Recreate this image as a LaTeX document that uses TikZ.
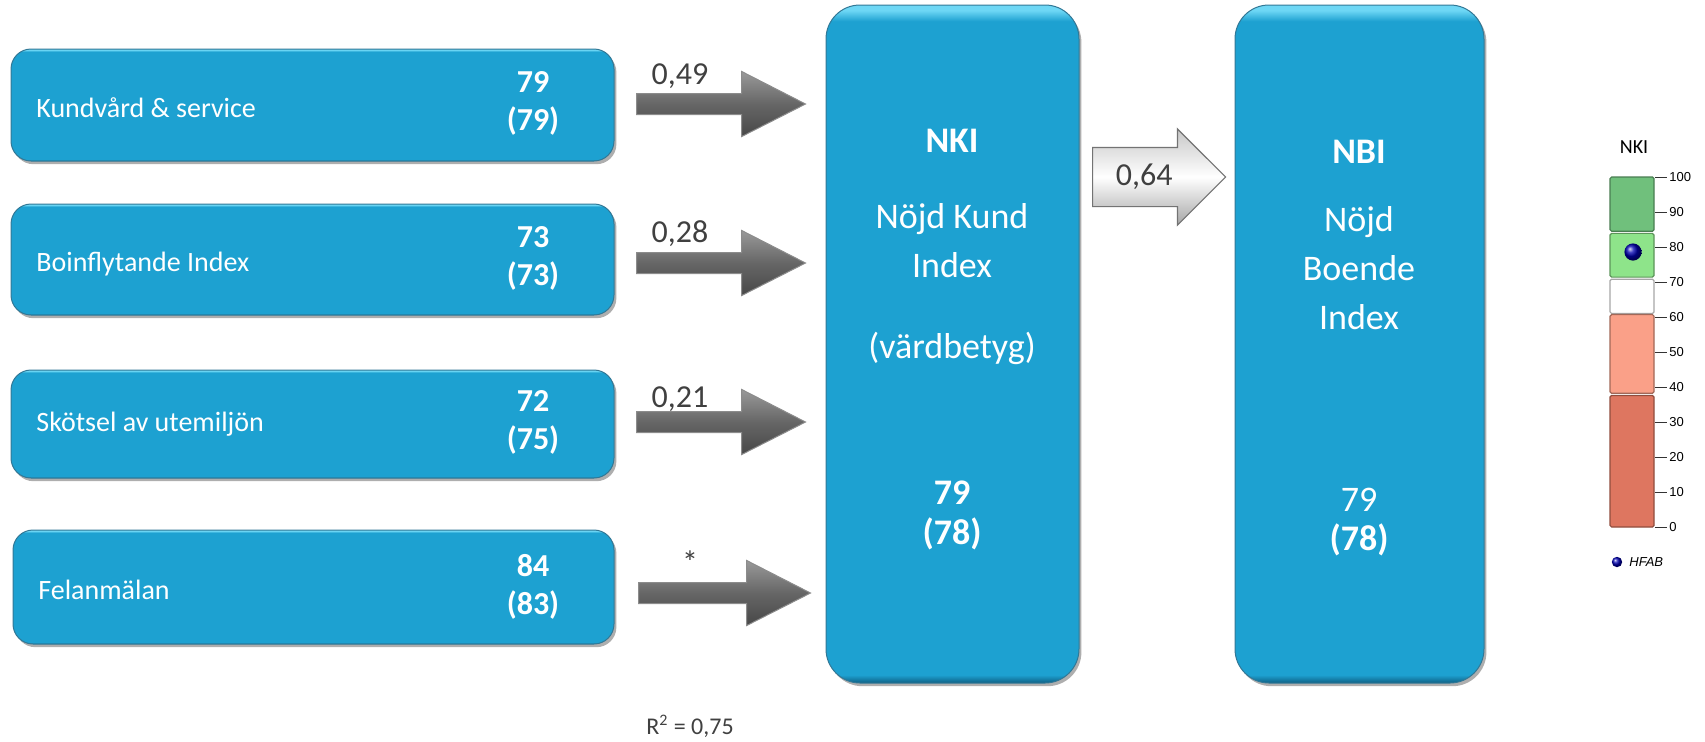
\documentclass[tikz,border=0pt]{standalone}
\usepackage{fontspec}
\setmainfont{Carlito}
\newfontfamily\tickfont{Liberation Sans}
\usetikzlibrary{shapes.arrows,shadows}

\definecolor{boxblue}{RGB}{29,161,209}
\definecolor{boxedge}{RGB}{14,96,132}
\definecolor{boxlight}{RGB}{110,215,245}
\definecolor{labelgray}{RGB}{64,64,64}
\definecolor{greendark}{RGB}{112,192,124}
\definecolor{greenlight}{RGB}{142,228,138}
\definecolor{salmonlight}{RGB}{250,160,136}
\definecolor{salmondark}{RGB}{222,118,96}

% bevel: dark rim at the bottom, light rim at the top
\pgfdeclareverticalshading{boxbevel}{100bp}{color(0bp)=(boxedge); color(25bp)=(boxedge);
  color(25.6bp)=(boxblue); color(73.8bp)=(boxblue); color(74.6bp)=(boxlight); color(100bp)=(boxlight)}

\begin{document}
\begin{tikzpicture}[x=0.5pt,y=-0.5pt,
    blockbox/.style={draw=boxedge!85, line width=0.5pt, shading=boxbevel,
      rounded corners=10pt, inner sep=0pt,
      drop shadow={shadow xshift=1.2pt, shadow yshift=-1.6pt, fill=black!70, opacity=0.45}},
    bigbox/.style={blockbox, rounded corners=17pt, minimum width=126.5pt, minimum height=339pt},
    boxlabel/.style={text=white, font=\fontsize{14}{17}\selectfont, anchor=west, inner sep=0pt},
    boxnum/.style={text=white, font=\fontsize{16}{19}\selectfont\bfseries, align=center, inner sep=0pt},
    bigtext/.style={text=white, font=\fontsize{18}{24.5}\selectfont, align=center, inner sep=0pt},
    grayarrow/.style={single arrow, anchor=tail, draw=black!45, line width=0.5pt,
      top color=black!40, bottom color=black!72, middle color=black!60,
      inner xsep=0pt, inner ysep=5pt, single arrow head extend=11pt,
      single arrow tip angle=54, minimum height=84.5pt},
    weightlabel/.style={text=labelgray, font=\fontsize{16}{19}\selectfont, inner sep=0pt},
    ticklabel/.style={font=\tickfont\fontsize{6.5}{8}\selectfont, anchor=west, inner sep=1pt}]
  \useasboundingbox (0,0) rectangle (1705,741);

  % driver boxes
  \node[blockbox, minimum width=301.5pt, minimum height=56pt] (kund) at (312.5,105) {};
  \node[boxlabel] (kundtxt) at (36,108) {Kundvård \& service};
  \node[boxnum] (kundnum) at (533,103) {79\\(79)};

  \node[blockbox, minimum width=301.5pt, minimum height=55.5pt] (boin) at (312.5,259.5) {};
  \node[boxlabel] (bointxt) at (36,264) {Boinflytande Index};
  \node[boxnum] (boinnum) at (533,258) {73\\(73)};

  \node[blockbox, minimum width=301.5pt, minimum height=54pt] (skot) at (312.5,424) {};
  \node[boxlabel] (skottxt) at (36,424) {Skötsel av utemiljön};
  \node[boxnum] (skotnum) at (533,422) {72\\(75)};

  \node[blockbox, minimum width=300.5pt, minimum height=57pt] (fel) at (313.5,587) {};
  \node[boxlabel] (feltxt) at (38,590) {Felanmälan};
  \node[boxnum] (felnum) at (533,587) {84\\(83)};

  % weight arrows
  \node[grayarrow] (a1) at (636,104) {};
  \node[weightlabel] (w1) at (680,76) {0,49};
  \node[grayarrow] (a2) at (636,263) {};
  \node[weightlabel] (w2) at (680,234) {0,28};
  \node[grayarrow] (a3) at (636,422) {};
  \node[weightlabel] (w3) at (680,399) {0,21};
  \node[grayarrow, minimum height=86pt] (a4) at (638,593) {};
  \node[weightlabel] (w4) at (690,562) {*};

  % index boxes
  \node[bigbox] (nki) at (952.5,344) {};
  \node[bigtext, font=\fontsize{18}{24.5}\selectfont\bfseries] (nkititle) at (952,141) {NKI};
  \node[bigtext] (nkiname) at (952,241) {Nöjd Kund\\Index};
  \node[bigtext] (nkisub) at (952,348) {(värdbetyg)};
  \node[bigtext, font=\fontsize{18}{20}\selectfont\bfseries] (nkinum) at (952,515) {79\\(78)};

  \node[bigbox, minimum width=124.5pt] (nbi) at (1359.5,344) {};
  \node[bigtext, font=\fontsize{18}{24.5}\selectfont\bfseries] (nbititle) at (1359,152) {NBI};
  \node[bigtext] (nbiname) at (1359,268) {Nöjd\\Boende\\Index};
  \node[bigtext] (nbinum) at (1359,500) {79};
  \node[bigtext, font=\fontsize{18}{20}\selectfont\bfseries] (nbinum2) at (1359,540) {(78)};

  \node[single arrow, anchor=tail, draw=black!55, line width=0.6pt,
    top color=black!22, bottom color=black!35, middle color=white,
    text=labelgray, font=\fontsize{16}{19}\selectfont,
    text height=11pt, text depth=3pt, inner ysep=7.5pt, inner xsep=6pt,
    single arrow head extend=9.25pt, single arrow tip angle=90,
    minimum height=66.5pt] (a5) at (1092,177) {0,64};

  \node[text=labelgray, font=\fontsize{12}{14}\selectfont, inner sep=0pt] (rsq) at (690,726) {R\textsuperscript{2} = 0,75};

  % NKI scale
  \node[font=\fontsize{10}{12}\selectfont, inner sep=0pt] (scaletitle) at (1634,147) {NKI};
  \foreach \vtop/\vbot/\segcol in {100/84.5/greendark, 83.9/71.4/greenlight, 70.8/61/white, 60.7/38.2/salmonlight, 37.6/0/salmondark}
    \draw[draw=\segcol!65!black, fill=\segcol, line width=0.6pt, rounded corners=0.8pt]
      (1610,{527-3.5*\vtop}) rectangle (1654,{527-3.5*\vbot});
  \foreach \v in {0,10,...,100} {
    \draw[black!80, line width=0.5pt] (1655,{527-3.5*\v}) -- (1667,{527-3.5*\v});
    \node[ticklabel] (t\v) at (1667,{527-3.5*\v}) {\v};
  }
  \shade[ball color=blue!70!black] (1633,252) circle (4.3pt);
  \shade[ball color=blue!70!black] (1617,562) circle (2.6pt);
  \node[ticklabel, font=\tickfont\fontsize{6.5}{8}\selectfont\itshape] (hfab) at (1627,562) {HFAB};
\end{tikzpicture}
\end{document}
